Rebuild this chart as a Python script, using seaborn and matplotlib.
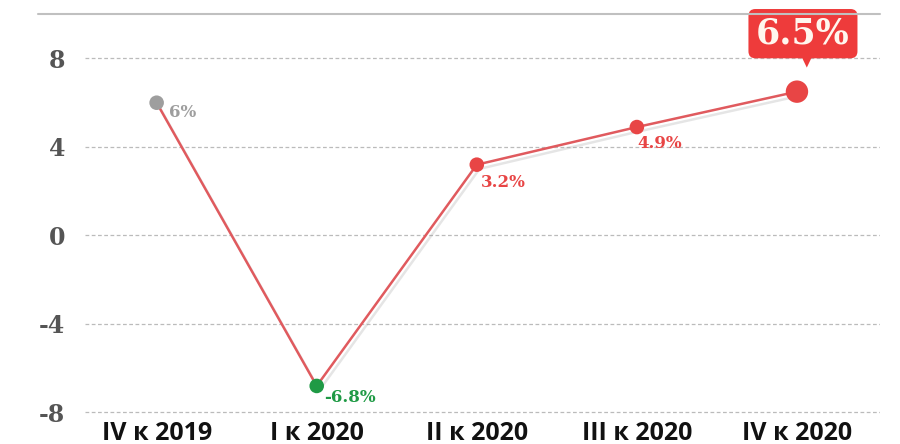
import matplotlib
matplotlib.use("Agg")
import matplotlib.pyplot as plt
import matplotlib.patheffects as pe
from matplotlib.lines import Line2D
import pandas as pd
import seaborn as sns

quarters = ["IV к 2019", "I к 2020", "II к 2020", "III к 2020", "IV к 2020"]
growth = [6.0, -6.8, 3.2, 4.9, 6.5]
labels = ["6%", "-6.8%", "3.2%", "4.9%", "6.5%"]
point_colors = ["#9e9e9e", "#1f9a45", "#e84545", "#e84545", "#e84545"]
y_ticks = [-8, -4, 0, 4, 8]

df = pd.DataFrame({"pos": range(len(quarters)), "growth": growth, "quarter": quarters})

sns.set_style("white")
plt.rcParams["font.family"] = ["DejaVu Serif"]

fig = plt.figure(figsize=(9, 4.44), dpi=100)
ax = fig.add_axes([0.094, 0.056, 0.884, 0.912])

# line with soft shadow
sns.lineplot(data=df, x="pos", y="growth", ax=ax, color="#e05a5e", linewidth=1.8,
             path_effects=[pe.SimpleLineShadow(offset=(2, -3), shadow_color="#999999", alpha=0.25),
                           pe.Normal()], zorder=3)

sizes = [110, 110, 110, 110, 260]
sns.scatterplot(data=df, x="pos", y="growth", ax=ax, hue="quarter", palette=point_colors,
                s=sizes, legend=False, edgecolor="none", zorder=4)

# value labels
offsets = [(12, -10), (7, -12), (4, -18), (0, -16)]
for i in range(4):
    ax.annotate(labels[i], (df.pos[i], growth[i]), textcoords="offset pixels", xytext=offsets[i],
                ha="left", va="center", fontsize=12, fontweight="bold", color=point_colors[i], zorder=5)

# callout for last value
ax.annotate(labels[4], (df.pos[4], growth[4]), textcoords="offset pixels", xytext=(6, 58),
            ha="center", va="center", fontsize=25, fontweight="bold", color="#fff6ee", zorder=6,
            bbox=dict(boxstyle="round,pad=0.22,rounding_size=0.2", fc="#ee3b3b", ec="none"),
            annotation_clip=False)
ax.annotate("▼", (df.pos[4], growth[4]), textcoords="offset pixels", xytext=(10, 30),
            ha="center", va="center", fontsize=9, color="#ee3b3b", family="DejaVu Sans",
            zorder=6, annotation_clip=False)

ax.set_xlim(-0.45, 4.52)
ax.set_ylim(-8.3, 10)
ax.set_yticks(y_ticks)
ax.set_yticklabels([str(t) for t in y_ticks], fontsize=17, fontweight="bold", color="#555555")
ax.set_xticks(range(len(quarters)))
ax.set_xticklabels(quarters, fontsize=18, fontweight="bold", color="#111111", family="Open Sans")
ax.tick_params(axis="y", length=0, pad=14)
ax.tick_params(axis="x", length=0, pad=1)
ax.set_xlabel("")
ax.set_ylabel("")
for t in y_ticks:
    ax.axhline(t, color="#bbbbbb", linestyle=(0, (3, 2)), linewidth=0.9, zorder=1)
for s in ax.spines.values():
    s.set_visible(False)

fig.add_artist(Line2D([0.042, 0.978], [0.968, 0.968], color="#c0c0c0", linewidth=1.5,
                      transform=fig.transFigure))

fig.savefig("out.png", dpi=100, facecolor="white")
